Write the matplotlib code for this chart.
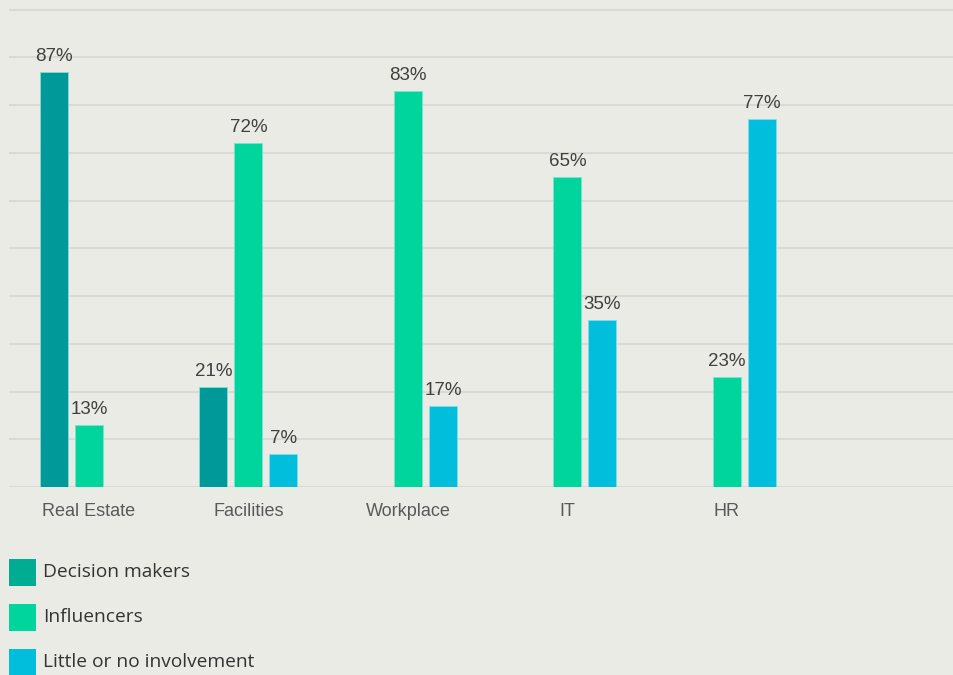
import matplotlib
matplotlib.use("Agg")
import matplotlib.pyplot as plt
from matplotlib.patches import Rectangle
import numpy as np

categories = ["Real Estate", "Facilities", "Workplace", "IT", "HR"]
series_names = ["Decision makers", "Influencers", "Little or no involvement"]
decision_makers = [87, 21, 0, 0, 0]
influencers = [13, 72, 83, 65, 23]
little_involvement = [0, 7, 17, 35, 77]

bar_colors = ["#00999A", "#00D59E", "#00BEDC"]
legend_colors = ["#00AD92", "#00D59E", "#00BEDC"]
bg = "#EBEBE6"

W, H = 954, 675
G = 159.5  # pixels per category
fig = plt.figure(figsize=(W / 100, H / 100), dpi=100, facecolor=bg)
ax = fig.add_axes([9 / W, 1 - 487 / H, 1 - 9 / W, (487 - 7) / H], facecolor=bg)

x = np.arange(len(categories))
width = 28 / G
offset = 35 / G
series = [decision_makers, influencers, little_involvement]
for i, vals in enumerate(series):
    pos = x + (i - 1) * offset
    for p, v in zip(pos, vals):
        if v <= 0:
            continue
        ax.bar(p, v, width=width, color=bar_colors[i], edgecolor="#7FE0D0" if i < 2 else "#80DDEE",
               linewidth=0.6, zorder=3)
        ax.annotate(f"{v}%", (p, v), xytext=(0, 5), textcoords="offset points",
                    ha="center", va="bottom", fontsize=13.5, color="#404040",
                    family="Liberation Sans", zorder=4)

ax.set_xlim(-80 / G, (W - 89) / G)
ax.set_ylim(0, 100 * 480 / 477.5)
ax.set_yticks(np.arange(0, 101, 10))
ax.yaxis.grid(True, color="#D9D9D5", linewidth=1.5, zorder=0)
ax.set_axisbelow(True)
ax.tick_params(axis="y", left=False, labelleft=False)
ax.set_xticks(x)
ax.set_xticklabels(categories, fontsize=13, color="#595959", family="Liberation Sans")
ax.tick_params(axis="x", bottom=False, pad=8)
for s in ax.spines.values():
    s.set_visible(False)

# legend
leg_y = [559, 604, 649]
for c, name, yy in zip(legend_colors, series_names, leg_y):
    fig.add_artist(Rectangle((9 / W, 1 - (yy + 27) / H), 27 / W, 27 / H,
                             transform=fig.transFigure, facecolor=c, edgecolor="none"))
    fig.text(43 / W, 1 - (yy + 13) / H, name, fontsize=13.8, color="#333333",
             family="Open Sans", va="center", ha="left")

fig.savefig("out.png", dpi=100, facecolor=bg)
